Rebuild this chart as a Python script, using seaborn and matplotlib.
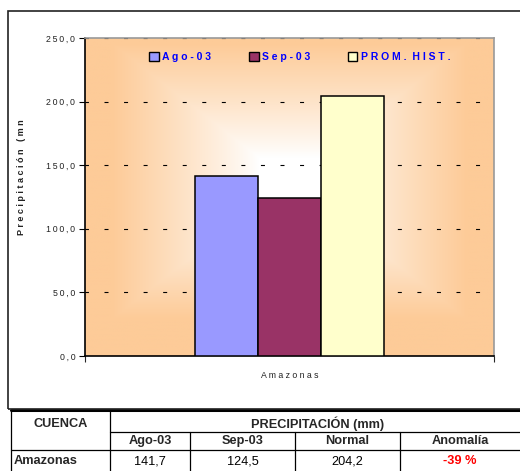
import numpy as np
import pandas as pd
import matplotlib
matplotlib.use("Agg")
import matplotlib.pyplot as plt
import matplotlib.patches as mpatches
from matplotlib import font_manager
import seaborn as sns

# =========================================================
# DATA
# =========================================================

cuencas = ["Amazonas"]
series = ["Ago-03", "Sep-03", "PROM. HIST."]
valores = [141.7, 124.5, 204.2]
colores = ["#9999FF", "#993366", "#FFFFCC"]

yticks = [0, 50, 100, 150, 200, 250]

tabla_cols = ["Ago-03", "Sep-03", "Normal", "Anomalía"]
tabla_fila = ["141,7", "124,5", "204,2", "-39 %"]

df = pd.DataFrame({
    "cuenca": cuencas * len(series),
    "serie": series,
    "valor": valores,
})

# =========================================================
# FIGURE
# =========================================================

sns.set_style("white")
plt.rcParams["font.family"] = ["Liberation Sans", "DejaVu Sans"]

W, H = 520, 471
fig = plt.figure(figsize=(W / 100, H / 100), dpi=100)

def fx(px):
    return px / W

def fy(py):
    return 1 - py / H

# chart frame
frame = mpatches.Rectangle((fx(8), fy(409)), fx(530) - fx(8), fy(11) - fy(409),
                           transform=fig.transFigure, fill=False,
                           edgecolor="#222222", linewidth=1.2)
fig.add_artist(frame)

ax = fig.add_axes([fx(85), fy(356), fx(494) - fx(85), fy(38) - fy(356)])

# gradient background (white centre -> orange edges)
nx, ny = 400, 320
gx = np.linspace(-1, 1, nx)
gy = np.linspace(-1, 1, ny)
XX, YY = np.meshgrid(gx, gy)
t = np.clip(np.maximum(np.abs(XX), np.abs(YY + 0.1)), 0, 1)
t = np.clip((t - 0.15) / 0.72, 0, 1) ** 0.9
orange = np.array([253, 203, 152]) / 255
white = np.array([255, 255, 255]) / 255
img = white[None, None, :] * (1 - t[..., None]) + orange[None, None, :] * t[..., None]
ax.imshow(img, extent=(-0.5, 0.5, 0, 250), aspect="auto", zorder=0)

sns.barplot(data=df, x="cuenca", y="valor", hue="serie", hue_order=series,
            palette=colores, width=0.462, gap=0, edgecolor="black",
            linewidth=1.1, saturation=1, legend=False, ax=ax, zorder=3)

ax.set_xlim(-0.5, 0.5)
ax.set_ylim(0, 250)

# dashed gridlines
for v in yticks[1:]:
    ax.axhline(v, color="black", linewidth=0.8, linestyle=(0.5, (3.6, 14.0)),
               dash_capstyle="butt", zorder=1)

ax.set_yticks(yticks)
ax.set_yticklabels(["\u2009".join(f"{v:.1f}".replace(".", ",")) for v in yticks],
                   fontsize=6.3, color="#222222")
ax.tick_params(axis="y", length=4, width=0.8, color="black", pad=3, direction="out", left=True)
ax.set_xticks([0])
ax.set_xticklabels(["A m a z o n a s"], fontsize=6.3, color="#222222")
ax.tick_params(axis="x", length=0, pad=11)
ax.set_xticks([-0.5, 0.5], minor=True)
ax.tick_params(axis="x", which="minor", length=4, width=0.8, direction="out", bottom=True)

ax.set_xlabel("")
ax.set_ylabel("")
for s in ["left", "bottom"]:
    ax.spines[s].set_color("black")
    ax.spines[s].set_linewidth(1.2)
for s in ["top", "right"]:
    ax.spines[s].set_color("#999999")
    ax.spines[s].set_linewidth(1.2)
    ax.spines[s].set_visible(True)

# y label (truncated like the original)
fig.text(fx(22), fy(177), "P r e c i p i t a c i ó n   ( m n", rotation=90,
         ha="center", va="center", fontsize=6.5, fontweight="bold", color="#222222")

# legend
handles = [mpatches.Patch(facecolor=c, edgecolor="black", linewidth=1.0) for c in colores]
labels = ["A g o - 0 3", "S e p - 0 3", "P R O M .  H I S T ."]
leg = ax.legend(handles, labels, ncol=3, frameon=False, loc="center",
                bbox_to_anchor=(0.525, 0.94), handlelength=0.95, handleheight=0.95,
                handletextpad=0.3, columnspacing=3.6,
                prop={"size": 7.5, "weight": "bold"})
for txt in leg.get_texts():
    txt.set_color("#0000FF")

# =========================================================
# TABLE
# =========================================================

tax = fig.add_axes([0, 0, 1, 1], facecolor="none")
tax.set_xlim(0, W)
tax.set_ylim(H, 0)
tax.axis("off")

xl, xr = 11, 522
col_x = [110, 190, 295, 400]
r0, r1, r2, r3 = 410, 432, 450, 471

tax.plot([xl, xr], [r0, r0], color="black", lw=2.2)
tax.plot([col_x[0], xr], [r1, r1], color="black", lw=0.9)
tax.plot([xl, xr], [r2, r2], color="black", lw=0.9)
tax.plot([xl, xl], [r0, r3], color="black", lw=0.9)
tax.plot([col_x[0], col_x[0]], [r0, r3], color="black", lw=0.9)
for cx in col_x[1:]:
    tax.plot([cx, cx], [r1, r3], color="black", lw=0.9)

installed = {f.name for f in font_manager.fontManager.ttflist}
if "Liberation Sans Narrow" in installed:
    tfont, tsize = ["Liberation Sans Narrow", "DejaVu Sans"], 10
else:
    tfont, tsize = ["Liberation Sans", "DejaVu Sans"], 9.2

tax.text((xl + col_x[0]) / 2, 424, "CUENCA", ha="center", va="center",
         fontsize=tsize, fontweight="bold", family=tfont)
tax.text((col_x[0] + 520) / 2 + 3, 424, "PRECIPITACIÓN (mm)", ha="center",
         va="center", fontsize=tsize, fontweight="bold", family=tfont)
edges = col_x + [520]
for i, name in enumerate(tabla_cols):
    cx = (edges[i] + edges[i + 1]) / 2
    tax.text(cx, 441, name, ha="center", va="center",
             fontsize=tsize, fontweight="bold", family=tfont)
tax.text(xl + 3, 461, cuencas[0], ha="left", va="center",
         fontsize=tsize, fontweight="bold", family=tfont)
for i, val in enumerate(tabla_fila):
    cx = (edges[i] + edges[i + 1]) / 2
    red = val.endswith("%")
    tax.text(cx, 461, val, ha="center", va="center", fontsize=tsize,
             fontweight="bold" if red else "normal",
             color="#FF0000" if red else "black", family=tfont)

fig.savefig("out.png", dpi=100)
